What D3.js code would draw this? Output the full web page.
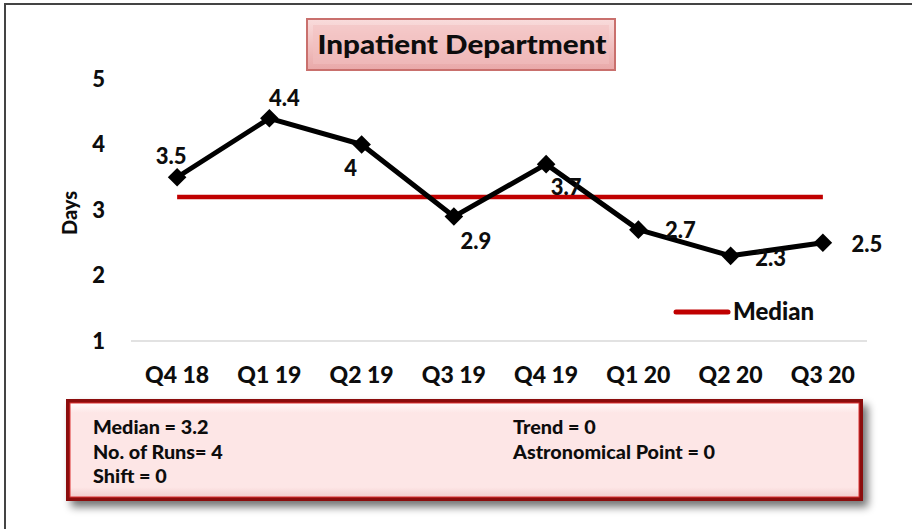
<!DOCTYPE html>
<html>
<head>
<meta charset="utf-8">
<script src="https://cdn.jsdelivr.net/npm/d3@7"></script>
<style>
  html, body { margin: 0; padding: 0; background: #fff; }
  svg { display: block; font-family: Lato, "Open Sans", sans-serif; }
  text { font-weight: 900; }
</style>
</head>
<body>
<svg id="chart" width="912" height="529"></svg>
<script>
// Quarterly average length of stay, inpatient department
const quarters = ["Q4 18", "Q1 19", "Q2 19", "Q3 19", "Q4 19", "Q1 20", "Q2 20", "Q3 20"];
const days = [3.5, 4.4, 4.0, 2.9, 3.7, 2.7, 2.3, 2.5];
const median = 3.2;
const yTicks = [1, 2, 3, 4, 5];
const summaryLeft = ["Median = 3.2", "No. of Runs= 4", "Shift = 0"];
const summaryRight = ["Trend = 0", "Astronomical Point = 0"];

const svg = d3.select("#chart");
const defs = svg.append("defs");
const FONT = "Lato, 'Open Sans', sans-serif";
const INK = "#0d0d0d";

// outer frame
svg.append("rect").attr("x", 5).attr("y", 4).attr("width", 920).attr("height", 540)
  .attr("fill", "none").attr("stroke", "#444").attr("stroke-width", 2);

const x = d3.scaleBand().domain(quarters).range([131, 869]);
const y = d3.scaleLinear().domain([1, 5]).range([341, 79]);
const cx = q => x(q) + x.bandwidth() / 2;

// gradients for the bevelled boxes
const tg = defs.append("linearGradient").attr("id", "titleFill").attr("x1", 0).attr("y1", 0).attr("x2", 0).attr("y2", 1);
tg.append("stop").attr("offset", "0%").attr("stop-color", "#f9dcdc");
tg.append("stop").attr("offset", "100%").attr("stop-color", "#e9a8a8");
const bg = defs.append("linearGradient").attr("id", "boxFill").attr("x1", 0).attr("y1", 0).attr("x2", 0).attr("y2", 1);
bg.append("stop").attr("offset", "0%").attr("stop-color", "#ffffff");
bg.append("stop").attr("offset", "12%").attr("stop-color", "#fde6e6");
bg.append("stop").attr("offset", "88%").attr("stop-color", "#fde6e6");
bg.append("stop").attr("offset", "100%").attr("stop-color", "#f0c8c8");
const sh = defs.append("filter").attr("id", "shadow").attr("x", "-5%").attr("y", "-20%").attr("width", "115%").attr("height", "150%");
sh.append("feGaussianBlur").attr("in", "SourceAlpha").attr("stdDeviation", 4).attr("result", "b");
sh.append("feOffset").attr("in", "b").attr("dx", 5).attr("dy", 6).attr("result", "o");
sh.append("feComponentTransfer").attr("in", "o").attr("result", "s")
  .append("feFuncA").attr("type", "linear").attr("slope", 0.55);
const m = sh.append("feMerge");
m.append("feMergeNode").attr("in", "s");
m.append("feMergeNode").attr("in", "SourceGraphic");

// title box
const title = svg.append("g");
title.append("rect").attr("x", 307).attr("y", 19).attr("width", 308).attr("height", 51)
  .attr("fill", "url(#titleFill)").attr("stroke", "#c9706d").attr("stroke-width", 2);
title.append("rect").attr("x", 313).attr("y", 25).attr("width", 296).attr("height", 39)
  .attr("fill", "#f3c0c0").attr("opacity", 0.55);
title.append("text").attr("x", 462).attr("y", 54).attr("text-anchor", "middle")
  .attr("font-size", 27).attr("fill", INK)
  .attr("textLength", 289).attr("lengthAdjust", "spacingAndGlyphs")
  .text("Inpatient Department");

// x axis baseline
svg.append("line").attr("x1", 131).attr("x2", 867).attr("y1", y(1)).attr("y2", y(1))
  .attr("stroke", "#d9d9d9").attr("stroke-width", 1.5);

// y axis labels
const yAxis = d3.axisLeft(y).tickValues(yTicks).tickSize(0).tickPadding(0).tickFormat(d3.format("d"));
const ya = svg.append("g").attr("transform", "translate(105,0)").call(yAxis);
ya.select(".domain").remove();
ya.selectAll("text").attr("font-size", 22).attr("fill", INK).attr("font-family", FONT);

svg.append("text").attr("transform", `translate(77,${y(3) + 3}) rotate(-90)`)
  .attr("text-anchor", "middle").attr("font-size", 20).attr("fill", INK)
  .text("Days");

// x axis labels
const xAxis = d3.axisBottom(x).tickSize(0).tickPadding(0);
const xa = svg.append("g").attr("transform", "translate(0,371)").call(xAxis);
xa.select(".domain").remove();
xa.selectAll("text").attr("font-size", 23).attr("fill", INK)
  .attr("font-family", FONT).attr("dy", "0.5em");

// median line
svg.append("line")
  .attr("x1", cx(quarters[0])).attr("x2", cx(quarters[quarters.length - 1]))
  .attr("y1", y(median)).attr("y2", y(median))
  .attr("stroke", "#c00000").attr("stroke-width", 4.5);

// data line and markers
const line = d3.line().x((d, i) => cx(quarters[i])).y(d => y(d));
svg.append("path").datum(days).attr("d", line)
  .attr("fill", "none").attr("stroke", "#000").attr("stroke-width", 5).attr("stroke-linejoin", "round");
svg.selectAll(".mk").data(days).join("path").attr("class", "mk")
  .attr("d", d3.symbol(d3.symbolDiamond2, 220)())
  .attr("transform", (d, i) => `translate(${cx(quarters[i])},${y(d)})`)
  .attr("fill", "#000");

// value labels, placed around each marker
const place = ["upleft", "up", "downleft", "downright", "downright2", "right", "rightlow", "rightfar"];
const off = {
  upleft: [-6, -13], up: [15, -12], downleft: [-11, 31],
  downright: [22, 32], downright2: [20, 31], right: [42, 8], rightlow: [40, 10], rightfar: [44, 9]
};
svg.selectAll(".lbl").data(days).join("text").attr("class", "lbl")
  .attr("x", (d, i) => cx(quarters[i]) + off[place[i]][0])
  .attr("y", (d, i) => y(d) + off[place[i]][1])
  .attr("text-anchor", "middle")
  .attr("font-size", 22).attr("fill", INK)
  .text(d => d3.format("")(d));

// legend
svg.append("line").attr("x1", 676).attr("x2", 728).attr("y1", 312).attr("y2", 312)
  .attr("stroke", "#c00000").attr("stroke-width", 5).attr("stroke-linecap", "round");
svg.append("text").attr("x", 733).attr("y", 320).attr("font-size", 24)
  .attr("fill", INK).text("Median");

// summary box
const box = svg.append("g");
box.append("rect").attr("x", 68).attr("y", 401).attr("width", 793).attr("height", 98)
  .attr("fill", "url(#boxFill)").attr("stroke", "#8b0d0d").attr("stroke-width", 4)
  .attr("filter", "url(#shadow)");
box.append("rect").attr("x", 70).attr("y", 403).attr("width", 789).attr("height", 94)
  .attr("fill", "none").attr("stroke", "#d33").attr("stroke-width", 1);
box.selectAll(".sl").data(summaryLeft).join("text").attr("class", "sl")
  .attr("x", 93).attr("y", (d, i) => 434 + i * 24.5)
  .attr("font-size", 19.8).attr("fill", INK).text(d => d);
box.selectAll(".sr").data(summaryRight).join("text").attr("class", "sr")
  .attr("x", 513).attr("y", (d, i) => 434 + i * 24.5)
  .attr("font-size", 19.8).attr("fill", INK).text(d => d);
</script>
</body>
</html>
